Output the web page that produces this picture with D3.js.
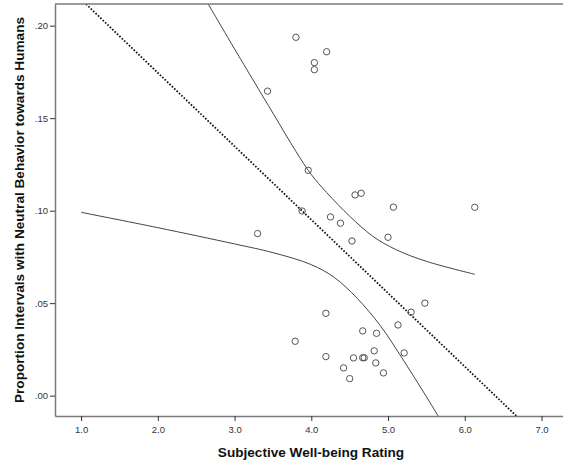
<!DOCTYPE html>
<html>
<head>
<meta charset="utf-8">
<script src="https://cdn.jsdelivr.net/npm/d3@7"></script>
<style>
  body { margin: 0; background: #fff; }
  svg { display: block; }
</style>
</head>
<body>
<div id="chart"></div>
<script>
// scatter values
const aWellbeing = [3.80, 4.20, 4.04, 4.04, 3.43, 3.96, 3.88, 4.57, 4.65, 5.07, 6.13, 4.25, 4.38, 3.30, 4.53, 5.00, 5.48,
   5.30, 4.19, 5.13, 4.67, 4.85, 3.79, 4.82, 5.21, 4.19, 4.55, 4.67, 4.69, 4.84, 4.42, 4.94, 4.50];
const aNeutral = [0.1937, 0.1859, 0.1800, 0.1762, 0.1646, 0.1218, 0.0998, 0.1085, 0.1094, 0.1019, 0.1018, 0.0966, 0.0932,
   0.0876, 0.0836, 0.0856, 0.0500, 0.0451, 0.0445, 0.0382, 0.0350, 0.0337, 0.0294, 0.0242, 0.0231, 0.0211, 0.0204,
   0.0205, 0.0205, 0.0177, 0.0150, 0.0123, 0.0092];

// fit line (dotted), ends of the line
const aFitX = [0.66, 7.28];
const aFitY = [0.2277, -0.0351];

// confidence band curves, points read along them
const aUpperX = [1.0, 2.0, 2.66, 3.0, 3.5, 3.8, 4.0, 4.2, 4.5, 4.8, 5.1, 5.5, 6.13];
const aUpperY = [0.330, 0.258, 0.2114, 0.1874, 0.1527, 0.1320, 0.1195, 0.1098, 0.0970, 0.0862, 0.0790, 0.0726, 0.0656];
const aLowerX = [1.0, 2.0, 3.0, 3.5, 4.0, 4.3, 4.6, 4.9, 5.2, 5.5, 5.8, 6.13];
const aLowerY = [0.0991, 0.0908, 0.0820, 0.0773, 0.0708, 0.0639, 0.0525, 0.0378, 0.0192, -0.0006, -0.0210, -0.0441];

// axis ticks
const aXTicks = [1, 2, 3, 4, 5, 6, 7];
const aYTicks = [0, 0.05, 0.10, 0.15, 0.20];
const aXDomain = [0.66, 7.28];
const aYDomain = [-0.011, 0.2117];

const iWidth = 563, iHeight = 464;
const oPlot = { left: 55, top: 4, right: 563, bottom: 416 }; // plot frame

const d3Svg = d3.select("#chart").append("svg")
   .attr("width", iWidth)
   .attr("height", iHeight)
   .attr("font-family", "'Liberation Sans', Arial, sans-serif");

const d3XScale = d3.scaleLinear().domain(aXDomain).range([oPlot.left, oPlot.right]);
const d3YScale = d3.scaleLinear().domain(aYDomain).range([oPlot.bottom, oPlot.top]);

d3Svg.append("clipPath").attr("id", "clip")
   .append("rect")
   .attr("x", oPlot.left).attr("y", oPlot.top)
   .attr("width", oPlot.right - oPlot.left).attr("height", oPlot.bottom - oPlot.top);

const gPlot = d3Svg.append("g").attr("clip-path", "url(#clip)");

// confidence curves
const d3Curve = d3.line().x(p => d3XScale(p[0])).y(p => d3YScale(p[1])).curve(d3.curveCatmullRom);
[[aUpperX, aUpperY], [aLowerX, aLowerY]].forEach(a => {
   gPlot.append("path")
      .datum(a[0].map((x, i) => [x, a[1][i]]))
      .attr("d", d3Curve)
      .attr("fill", "none")
      .attr("stroke", "#444")
      .attr("stroke-width", 1);
});

// fit line
gPlot.append("path")
   .datum(aFitX.map((x, i) => [x, aFitY[i]]))
   .attr("d", d3.line().x(p => d3XScale(p[0])).y(p => d3YScale(p[1])))
   .attr("fill", "none")
   .attr("stroke", "#111")
   .attr("stroke-width", 1.8)
   .attr("stroke-dasharray", "1.6,1.7");

// points
gPlot.selectAll("circle").data(aWellbeing)
   .enter()
   .append("circle")
   .attr("cx", (x) => d3XScale(x))
   .attr("cy", (x, i) => d3YScale(aNeutral[i]))
   .attr("r", 3.2)
   .attr("fill", "none")
   .attr("stroke", "#555")
   .attr("stroke-width", 1);

// axes
const fYFormat = v => d3.format(".2f")(v).replace(/^0/, "");
const gYAxis = d3Svg.append("g")
   .attr("transform", `translate(${oPlot.left},0)`)
   .call(d3.axisLeft(d3YScale).tickValues(aYTicks).tickFormat(fYFormat).tickSize(5).tickSizeOuter(0).tickPadding(2));
const gXAxis = d3Svg.append("g")
   .attr("transform", `translate(0,${oPlot.bottom})`)
   .call(d3.axisBottom(d3XScale).tickValues(aXTicks).tickFormat(d3.format(".1f")).tickSize(5).tickSizeOuter(0).tickPadding(5));

[gYAxis, gXAxis].forEach(g => {
   g.select(".domain").attr("stroke", "#7a7a7a").attr("stroke-width", 1.5);
   g.selectAll(".tick line").attr("stroke", "#333");
   g.selectAll(".tick text")
      .attr("font-family", "'Liberation Sans', Arial, sans-serif")
      .attr("font-size", "9.5px")
      .attr("fill", "#333");
});

// top frame line
d3Svg.append("line")
   .attr("x1", oPlot.left).attr("x2", oPlot.right)
   .attr("y1", oPlot.top).attr("y2", oPlot.top)
   .attr("stroke", "#7a7a7a")
   .attr("stroke-width", 1.5);

// axis titles
d3Svg.append("text")
   .attr("x", 311)
   .attr("y", 457)
   .attr("text-anchor", "middle")
   .attr("font-size", "13.6px")
   .attr("font-weight", "bold")
   .attr("fill", "#111")
   .text("Subjective Well-being Rating");

d3Svg.append("text")
   .attr("transform", "translate(24,210) rotate(-90)")
   .attr("text-anchor", "middle")
   .attr("font-size", "13.6px")
   .attr("font-weight", "bold")
   .attr("fill", "#111")
   .text("Proportion Intervals with Neutral Behavior towards Humans");
</script>
</body>
</html>
